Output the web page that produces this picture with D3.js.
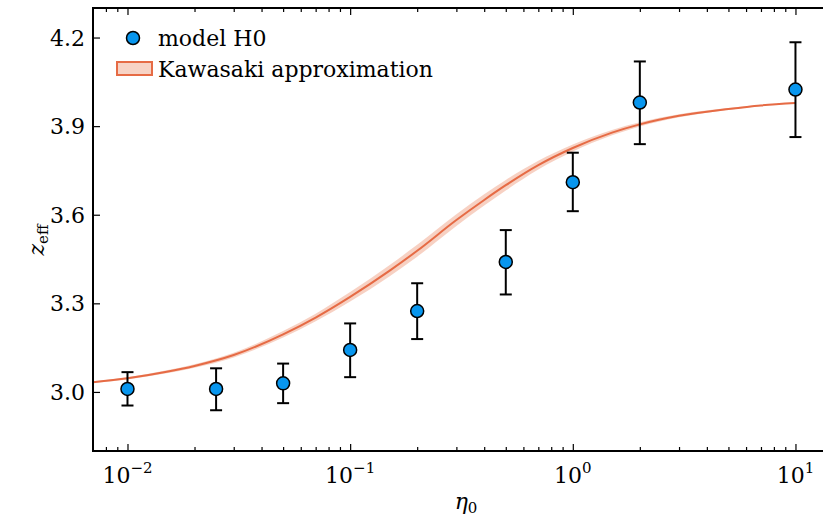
<!DOCTYPE html>
<html>
<head>
<meta charset="utf-8">
<script src="https://cdn.jsdelivr.net/npm/d3@7"></script>
<style>
  body { margin: 0; background: #fff; }
  svg { display: block; font-family: "DejaVu Serif", serif; }
</style>
</head>
<body>
<div class="chart"></div>
<script>
var width = 823,
    height = 519;

// measured points (model H0)
var etaPoints = [0.01, 0.025, 0.05, 0.1, 0.2, 0.5, 1, 2, 10];
var zPoints   = [3.01, 3.01, 3.029, 3.142, 3.274, 3.44, 3.71, 3.98, 4.024];
var zErrLow   = [0.056, 0.072, 0.067, 0.092, 0.095, 0.11, 0.098, 0.141, 0.161];
var zErrHigh  = [0.057, 0.07, 0.067, 0.09, 0.094, 0.108, 0.1, 0.139, 0.16];

// Kawasaki approximation curve and its band
var etaCurve  = [0.007, 0.01, 0.015, 0.02, 0.03, 0.05, 0.07, 0.1, 0.15, 0.2, 0.3, 0.4, 0.5, 0.7, 1, 1.5, 2, 3, 5, 7, 10];
var zCurve    = [3.033, 3.046, 3.068, 3.088, 3.125, 3.195, 3.252, 3.322, 3.41, 3.478, 3.582, 3.65, 3.7, 3.768, 3.826, 3.878, 3.906, 3.935, 3.958, 3.97, 3.978];
var zBand     = [0.003, 0.004, 0.005, 0.006, 0.008, 0.011, 0.013, 0.016, 0.019, 0.02, 0.02, 0.019, 0.018, 0.015, 0.012, 0.009, 0.007, 0.005, 0.003, 0.002, 0.002];

var xMajor = [0.01, 0.1, 1, 10];
var xMajorExp = ["\u22122", "\u22121", "0", "1"];
var yTicks = [3.0, 3.3, 3.6, 3.9, 4.2];

var lineColor = "#e66b45",
    bandColor = "#f2b9a3",
    dotColor = "#0896ee";

var x = d3.scaleLog().domain([0.007, 14]).range([93, 828]);
var y = d3.scaleLinear().domain([2.8, 4.3]).range([451, 8]);

var svg = d3.select(".chart").append("svg")
    .attr("width", width)
    .attr("height", height);

svg.append("clipPath").attr("id", "plotclip")
  .append("rect")
    .attr("x", 93).attr("y", 8)
    .attr("width", 735).attr("height", 443);

var plot = svg.append("g").attr("clip-path", "url(#plotclip)");

var curve = etaCurve.map(function(e, i) {
    return { eta: e, z: zCurve[i], w: zBand[i] };
});

// band
plot.append("path")
    .datum(curve)
    .attr("fill", bandColor)
    .attr("fill-opacity", 0.65)
    .attr("d", d3.area()
        .curve(d3.curveMonotoneX)
        .x(function(d) { return x(d.eta); })
        .y0(function(d) { return y(d.z - d.w); })
        .y1(function(d) { return y(d.z + d.w); }));

// central line
plot.append("path")
    .datum(curve)
    .attr("fill", "none")
    .attr("stroke", lineColor)
    .attr("stroke-width", 2)
    .attr("d", d3.line()
        .curve(d3.curveMonotoneX)
        .x(function(d) { return x(d.eta); })
        .y(function(d) { return y(d.z); }));

var pts = etaPoints.map(function(e, i) {
    return { eta: e, z: zPoints[i], lo: zErrLow[i], hi: zErrHigh[i] };
});

// error bars
var eb = plot.selectAll(".errbar").data(pts).enter().append("g")
    .attr("class", "errbar")
    .attr("stroke", "#000")
    .attr("stroke-width", 2);
eb.append("line")
    .attr("x1", function(d) { return x(d.eta); })
    .attr("x2", function(d) { return x(d.eta); })
    .attr("y1", function(d) { return y(d.z - d.lo); })
    .attr("y2", function(d) { return y(d.z + d.hi); });
eb.append("line")
    .attr("x1", function(d) { return x(d.eta) - 6; })
    .attr("x2", function(d) { return x(d.eta) + 6; })
    .attr("y1", function(d) { return y(d.z + d.hi); })
    .attr("y2", function(d) { return y(d.z + d.hi); });
eb.append("line")
    .attr("x1", function(d) { return x(d.eta) - 6; })
    .attr("x2", function(d) { return x(d.eta) + 6; })
    .attr("y1", function(d) { return y(d.z - d.lo); })
    .attr("y2", function(d) { return y(d.z - d.lo); });

plot.selectAll(".dot").data(pts).enter().append("circle")
    .attr("class", "dot")
    .attr("cx", function(d) { return x(d.eta); })
    .attr("cy", function(d) { return y(d.z); })
    .attr("r", 6.5)
    .attr("fill", dotColor)
    .attr("stroke", "#000")
    .attr("stroke-width", 1.5);

// axes (ticks point inward)
var minor = [];
[0.001, 0.01, 0.1, 1, 10].forEach(function(p) {
    for (var k = 2; k <= 9; k++) {
        var v = p * k;
        if (v > 0.007 && v < 14) minor.push(v);
    }
});

function styleAxis(g) {
    g.select(".domain").remove();
    g.selectAll(".tick line").attr("stroke", "#000").attr("stroke-width", 1.2);
    g.selectAll(".tick text").remove();
}

svg.append("g").attr("transform", "translate(0,451)")
    .call(d3.axisBottom(x).tickValues(xMajor).tickSize(-7).tickFormat(""))
    .call(styleAxis);
svg.append("g").attr("transform", "translate(0,451)")
    .call(d3.axisBottom(x).tickValues(minor).tickSize(-4).tickFormat(""))
    .call(styleAxis);
svg.append("g").attr("transform", "translate(0,8)")
    .call(d3.axisTop(x).tickValues(xMajor).tickSize(-7).tickFormat(""))
    .call(styleAxis);
svg.append("g").attr("transform", "translate(0,8)")
    .call(d3.axisTop(x).tickValues(minor).tickSize(-4).tickFormat(""))
    .call(styleAxis);
svg.append("g").attr("transform", "translate(93,0)")
    .call(d3.axisLeft(y).tickValues(yTicks).tickSize(-7).tickFormat(""))
    .call(styleAxis);

// spines
svg.append("path")
    .attr("d", "M828,8H93V451H828")
    .attr("fill", "none")
    .attr("stroke", "#000")
    .attr("stroke-width", 2);

// tick labels
svg.selectAll(".ylab").data(yTicks).enter().append("text")
    .attr("class", "ylab")
    .attr("x", 85)
    .attr("y", function(d) { return y(d) + 8; })
    .attr("text-anchor", "end")
    .style("font-size", "22px")
    .text(function(d) { return d.toFixed(1); });

var xl = svg.selectAll(".xlab").data(xMajor).enter().append("text")
    .attr("class", "xlab")
    .attr("x", function(d) { return x(d); })
    .attr("y", 483)
    .attr("text-anchor", "middle")
    .style("font-size", "22px");
xl.append("tspan").text("10");
xl.append("tspan")
    .attr("dy", -10)
    .style("font-size", "15px")
    .text(function(d, i) { return xMajorExp[i]; });

// axis titles
var xt = svg.append("text")
    .attr("x", 466)
    .attr("y", 509)
    .attr("text-anchor", "middle")
    .style("font-size", "22px");
xt.append("tspan").style("font-style", "italic").text("\u03b7");
xt.append("tspan").attr("dy", 4).style("font-size", "15px").text("0");

var yt = svg.append("text")
    .attr("transform", "translate(44,240) rotate(-90)")
    .attr("text-anchor", "middle")
    .style("font-size", "22px");
yt.append("tspan").style("font-style", "italic").text("z");
yt.append("tspan").attr("dy", 4).style("font-size", "15px").text("eff");

// legend
svg.append("circle")
    .attr("cx", 133).attr("cy", 38).attr("r", 6.5)
    .attr("fill", dotColor).attr("stroke", "#000").attr("stroke-width", 1.5);
svg.append("text")
    .attr("x", 158).attr("y", 46)
    .style("font-size", "22px")
    .text("model H0");
svg.append("rect")
    .attr("x", 117).attr("y", 62).attr("width", 35).attr("height", 13)
    .attr("fill", "#f7d3c5")
    .attr("stroke", lineColor)
    .attr("stroke-width", 2);
svg.append("text")
    .attr("x", 158).attr("y", 77)
    .style("font-size", "22px")
    .text("Kawasaki approximation");
</script>
</body>
</html>
